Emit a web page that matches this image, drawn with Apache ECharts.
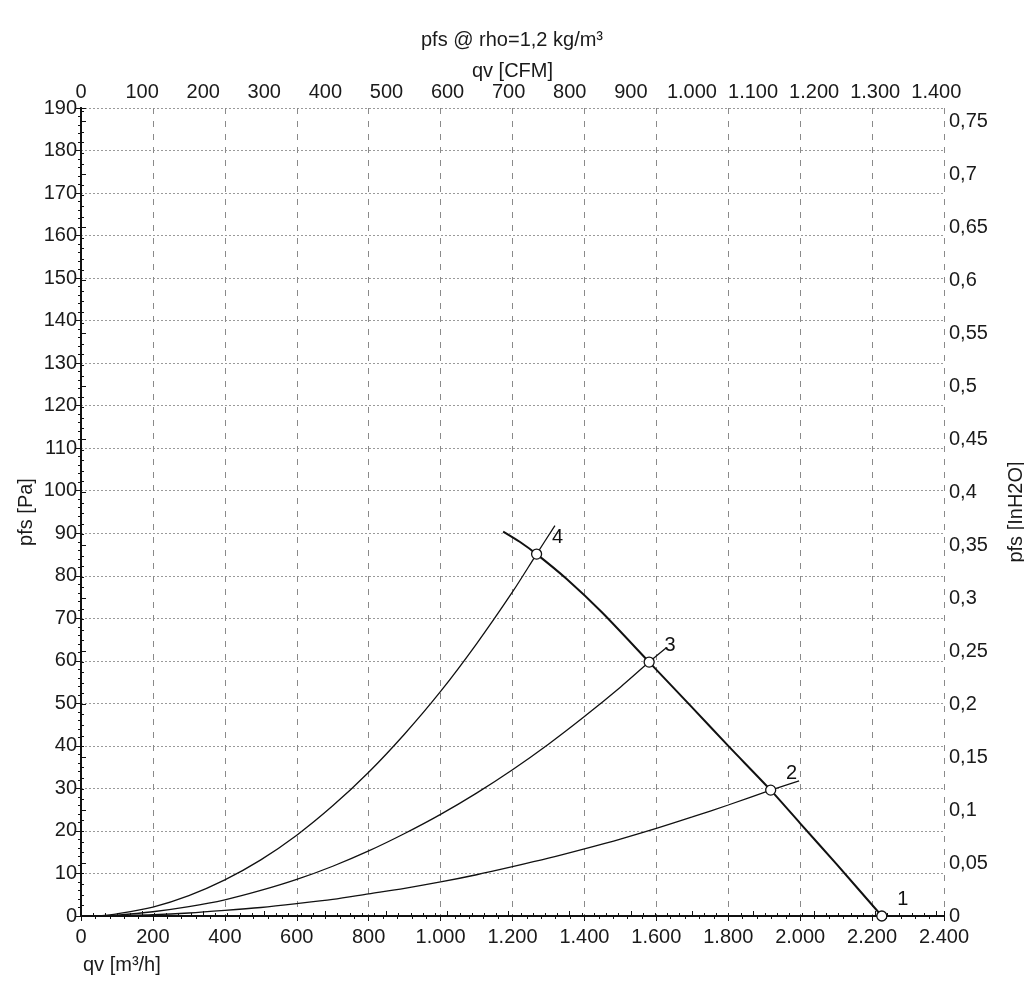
<!DOCTYPE html>
<html>
<head>
<meta charset="utf-8">
<script src="https://cdn.jsdelivr.net/npm/echarts@6/dist/echarts.min.js"></script>
<style>
html,body{margin:0;padding:0;background:#fff;}
#chart{width:1024px;height:990px;}
</style>
</head>
<body>
<div id="chart"></div>
<script>
// ---- data ----
const titleText = 'pfs @ rho=1,2 kg/m³';
const xNameBottom = 'qv [m³/h]';
const xNameTop = 'qv [CFM]';
const yNameLeft = 'pfs [Pa]';
const yNameRight = 'pfs [InH2O]';

const qvMin = 0, qvMax = 2400, qvStep = 200;
const pfsMin = 0, pfsMax = 190, pfsStep = 10;
const cfmPerM3h = 1 / 1.69901;
const inH2OPerPa = 1 / 249.089;
const cfmStep = 100;
const inH2OStep = 0.05;

// fan curve
const fanQv  = [1174, 1220, 1267, 1350, 1450, 1580, 1700, 1800, 1918, 2000, 2100, 2227];
const fanPfs = [90.4, 88.0, 85.1, 79.3, 71.3, 59.7, 49.0, 40.0, 29.6, 21.8, 12.3, 0];

// system curves
const sys4Qv  = [50, 100, 200, 300, 400, 500, 600, 700, 800, 900, 1000, 1100, 1200, 1267, 1318];
const sys4Pfs = [0, 0.5, 2.1, 4.8, 8.5, 13.2, 19.0, 25.9, 33.8, 42.8, 52.8, 64.0, 76.2, 85.1, 91.8];

const sys3Qv  = [50, 100, 200, 300, 400, 500, 600, 700, 800, 900, 1000, 1100, 1200, 1300, 1400, 1500, 1580, 1627];
const sys3Pfs = [0, 0.2, 1.0, 2.2, 3.8, 6.0, 8.6, 11.7, 15.3, 19.4, 23.9, 28.9, 34.4, 40.4, 46.9, 53.8, 59.7, 63.0];

const sys2Qv  = [50, 100, 200, 300, 400, 500, 600, 700, 800, 900, 1000, 1100, 1200, 1300, 1400, 1500, 1600, 1700, 1800, 1918, 1997];
const sys2Pfs = [0, 0.1, 0.3, 0.7, 1.3, 2.0, 2.9, 3.9, 5.2, 6.5, 8.0, 9.7, 11.6, 13.6, 15.8, 18.1, 20.6, 23.3, 26.1, 29.6, 31.8];

// operating points
const opQv = [2227, 1918, 1580, 1267];
const opPfs = [0, 29.6, 59.7, 85.1];
const opLabels = ['1', '2', '3', '4'];

// ---- helpers ----
function zip(a, b) { return a.map((v, i) => [v, b[i]]); }
function thousands(v) {
  const s = String(Math.round(v));
  return s.replace(/\B(?=(\d{3})+(?!\d))/g, '.');
}
function isMultiple(v, step) {
  const r = v / step;
  return Math.abs(r - Math.round(r)) < 1e-6;
}

const FONT = '"Liberation Sans", Arial, sans-serif';
const FS = 20;
const labelStyle = { color: '#1a1a1a', fontSize: FS, fontFamily: FONT };
const axisLineStyle = { show: true, lineStyle: { color: '#111', width: 2 } };
const tickStyle = { show: true, length: 5, lineStyle: { color: '#111', width: 1 } };
const minorStyle = { show: true, splitNumber: 5, length: 3, lineStyle: { color: '#111', width: 1 } };

const chart = echarts.init(document.getElementById('chart'), null, { renderer: 'canvas' });

const option = {
  backgroundColor: '#fff',
  animation: false,
  title: {
    text: titleText, left: 'center', top: 25,
    textStyle: { fontSize: FS, fontWeight: 'normal', color: '#1a1a1a', fontFamily: FONT }
  },
  graphic: [
    {
      type: 'text', left: 83, top: 955,
      style: { text: xNameBottom, fill: '#1a1a1a', font: FS + 'px ' + FONT }
    }
  ],
  grid: { left: 81, right: 80, top: 108, bottom: 74, containLabel: false, outerBoundsMode: 'none' },
  xAxis: [
    {
      type: 'value', position: 'bottom', min: qvMin, max: qvMax, interval: qvStep,
      axisLine: axisLineStyle,
      axisTick: tickStyle,
      minorTick: minorStyle,
      axisLabel: Object.assign({}, labelStyle, { margin: 11, formatter: v => thousands(v) }),
      splitLine: { show: true, lineStyle: { color: '#8a8a8a', type: [6, 7], width: 1 } }
    },
    {
      type: 'value', position: 'top', min: 0, max: qvMax * cfmPerM3h, interval: cfmStep,
      name: xNameTop, nameLocation: 'middle', nameGap: 27, nameMoveOverlap: false,
      nameTextStyle: labelStyle,
      axisLine: axisLineStyle,
      axisTick: tickStyle,
      minorTick: minorStyle,
      axisLabel: Object.assign({}, labelStyle, { margin: 6, formatter: v => isMultiple(v, cfmStep) ? thousands(v) : '' }),
      splitLine: { show: false }
    }
  ],
  yAxis: [
    {
      type: 'value', position: 'left', min: pfsMin, max: pfsMax, interval: pfsStep,
      name: yNameLeft, nameLocation: 'middle', nameGap: 45, nameRotate: 90, nameMoveOverlap: false,
      nameTextStyle: labelStyle,
      axisLine: axisLineStyle,
      axisTick: tickStyle,
      minorTick: minorStyle,
      axisLabel: Object.assign({}, labelStyle, { margin: 4 }),
      splitLine: { show: true, lineStyle: { color: '#9a9a9a', type: [2, 2], width: 1 } }
    },
    {
      type: 'value', position: 'right', min: 0, max: pfsMax * inH2OPerPa, interval: inH2OStep,
      name: yNameRight, nameLocation: 'middle', nameGap: 62, nameRotate: 90, nameMoveOverlap: false,
      nameTextStyle: labelStyle,
      axisLine: axisLineStyle,
      axisTick: tickStyle,
      minorTick: minorStyle,
      axisLabel: Object.assign({}, labelStyle, {
        margin: 5,
        formatter: v => isMultiple(v, inH2OStep) ? String(Math.round(v * 100) / 100).replace('.', ',') : ''
      }),
      splitLine: { show: false }
    }
  ],
  series: [
    {
      type: 'line', name: 'fan', data: zip(fanQv, fanPfs), smooth: 0.25, showSymbol: false,
      lineStyle: { color: '#111', width: 2 }, z: 3
    },
    {
      type: 'line', name: 'sys4', data: zip(sys4Qv, sys4Pfs), smooth: 0.3, showSymbol: false,
      lineStyle: { color: '#111', width: 1.3 }, z: 2
    },
    {
      type: 'line', name: 'sys3', data: zip(sys3Qv, sys3Pfs), smooth: 0.3, showSymbol: false,
      lineStyle: { color: '#111', width: 1.3 }, z: 2
    },
    {
      type: 'line', name: 'sys2', data: zip(sys2Qv, sys2Pfs), smooth: 0.3, showSymbol: false,
      lineStyle: { color: '#111', width: 1.3 }, z: 2
    },
    {
      type: 'scatter', name: 'points', z: 5,
      data: opQv.map((q, i) => ({ value: [q, opPfs[i]], name: opLabels[i] })),
      symbol: 'circle', symbolSize: 10,
      itemStyle: { color: '#ffffff', borderColor: '#111', borderWidth: 1.3, opacity: 1 },
      emphasis: { disabled: true },
      label: {
        show: true, position: 'inside', offset: [21, -17],
        formatter: p => p.name,
        color: '#111', fontSize: FS, fontFamily: FONT, opacity: 1
      }
    }
  ]
};
chart.setOption(option);
</script>
</body>
</html>
